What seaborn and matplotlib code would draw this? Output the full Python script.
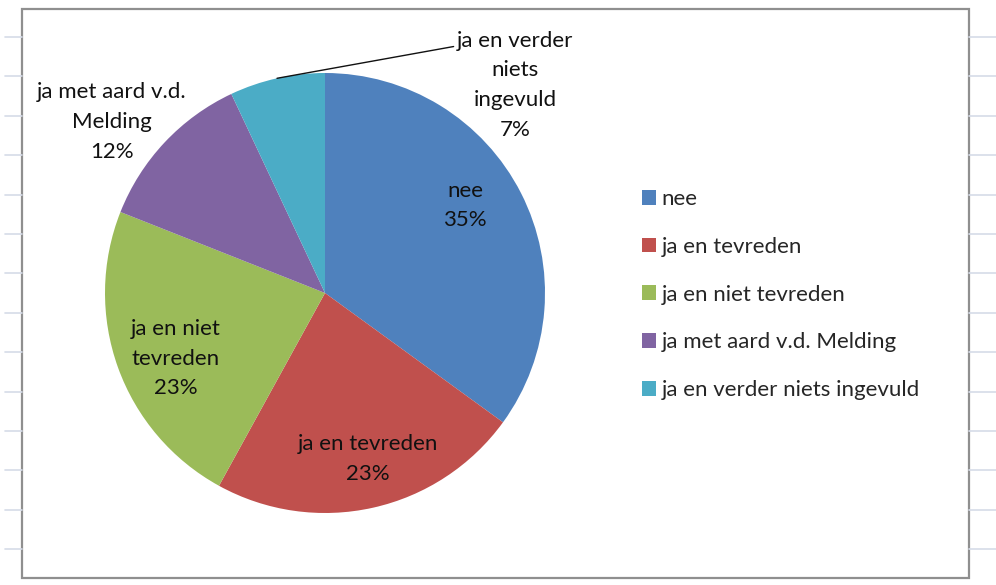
import matplotlib
matplotlib.use("Agg")
import matplotlib.pyplot as plt
from matplotlib.patches import Rectangle, Patch
from matplotlib.lines import Line2D
import numpy as np
import seaborn as sns

# data
categories = ["nee", "ja en tevreden", "ja en niet tevreden",
              "ja met aard v.d. Melding", "ja en verder niets ingevuld"]
slice_names = ["nee", "ja en tevreden", "ja en niet\ntevreden",
               "ja met aard v.d.\nMelding", "ja en verder\nniets\ningevuld"]
percentages = [35, 23, 23, 12, 7]
colors = ["#4F81BD", "#C0504D", "#9BBB59", "#8064A2", "#4BACC6"]

sns.set_theme(style="white")
plt.rcParams["font.family"] = ["Lato", "DejaVu Sans"]

fig = plt.figure(figsize=(9.96, 5.85), dpi=100)

# excel sheet gridlines peeking out behind the chart
for k in range(14):
    y = 1 - (37 + 39.4 * k) / 585
    fig.add_artist(Line2D([5 / 996, 22 / 996], [y, y], color="#d5dbe8", lw=1.2))
    fig.add_artist(Line2D([969 / 996, 1.0], [y, y], color="#d5dbe8", lw=1.2))

# chart frame
fig.add_artist(Rectangle((22 / 996, 1 - 578 / 585), 947 / 996, 569 / 585,
                         fill=False, edgecolor="#8f8f8f", lw=1.6))

ax = fig.add_axes([105 / 996, 72 / 585, 440 / 996, 440 / 585])
wedges, _ = ax.pie(percentages, colors=colors, startangle=90, counterclock=False,
                   radius=1, wedgeprops=dict(edgecolor="none"))
ax.set_xlim(-1, 1)
ax.set_ylim(-1, 1)
ax.set_aspect("equal")
ax.axis("off")

fs = 16
ls = 1.6
tc = "#111111"
# inside labels
inside = {0: (0.75, 5), 1: (0.78, 2), 2: (0.74, 4)}
for i, (r, off) in inside.items():
    w = wedges[i]
    ang = np.deg2rad((w.theta1 + w.theta2) / 2 + off)
    ax.text(r * np.cos(ang), r * np.sin(ang),
            f"{slice_names[i]}\n{percentages[i]}%",
            ha="center", va="center", fontsize=fs, color=tc, linespacing=ls)

# outside label for purple slice
w = wedges[3]
ang = np.deg2rad((w.theta1 + w.theta2) / 2 + 4)
ax.text(1.25 * np.cos(ang), 1.23 * np.sin(ang),
        f"{slice_names[3]}\n{percentages[3]}%",
        ha="center", va="center", fontsize=fs, color=tc, linespacing=ls)

# outside label with leader line for teal slice
w = wedges[4]
ang = np.deg2rad((w.theta1 + w.theta2) / 2)
ax.annotate(f"{slice_names[4]}\n{percentages[4]}%",
            xy=(np.cos(ang), np.sin(ang)), xytext=(0.864, 0.945),
            ha="center", va="center", fontsize=fs, color=tc, linespacing=ls,
            annotation_clip=False,
            arrowprops=dict(arrowstyle="-", color=tc, lw=1.0,
                            relpos=(0.0, 0.86), shrinkA=0, shrinkB=0))

handles = [Patch(facecolor=c, edgecolor="none") for c in colors]
fig.legend(handles, categories, loc="upper left", bbox_to_anchor=(622 / 996, 1 - 169 / 585),
           frameon=False, fontsize=fs, handlelength=0.65, handleheight=0.65,
           handletextpad=0.22, labelspacing=1.25)

fig.savefig("out.png", dpi=100)
